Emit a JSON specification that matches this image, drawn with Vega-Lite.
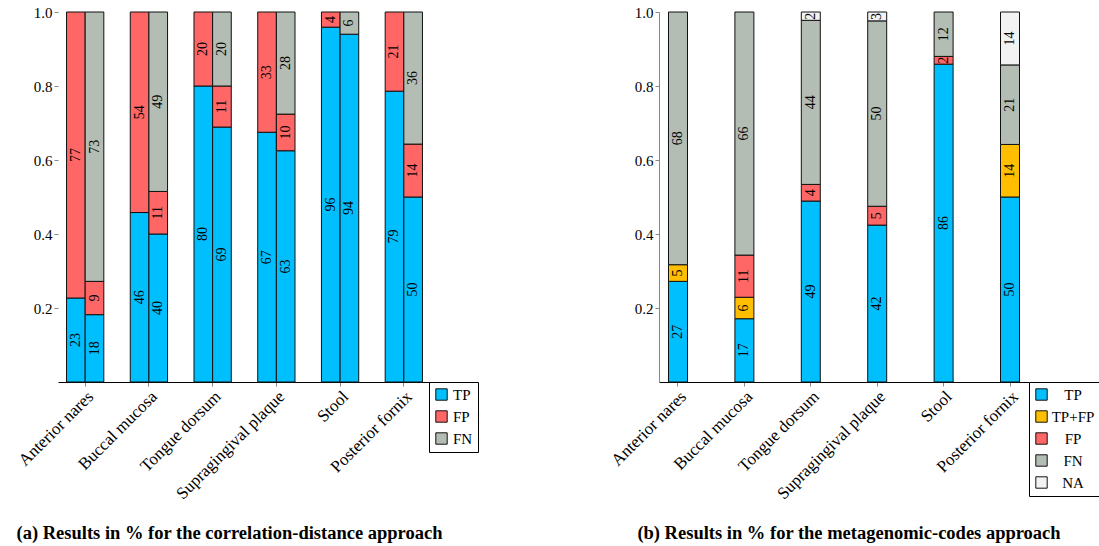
{
  "$schema": "https://vega.github.io/schema/vega-lite/v6.json",
  "padding": {"left": 14, "top": 5, "right": 0, "bottom": 5},
  "datasets": {
    "cd": [
      {"site": "Anterior nares", "bar": "1", "cls": "TP", "ord": 1, "v": 0.227, "lab": "23"},
      {"site": "Anterior nares", "bar": "1", "cls": "FP", "ord": 3, "v": 0.773, "lab": "77"},
      {"site": "Anterior nares", "bar": "2", "cls": "TP", "ord": 1, "v": 0.182, "lab": "18"},
      {"site": "Anterior nares", "bar": "2", "cls": "FP", "ord": 3, "v": 0.09, "lab": "9"},
      {"site": "Anterior nares", "bar": "2", "cls": "FN", "ord": 4, "v": 0.728, "lab": "73"},
      {"site": "Buccal mucosa", "bar": "1", "cls": "TP", "ord": 1, "v": 0.458, "lab": "46"},
      {"site": "Buccal mucosa", "bar": "1", "cls": "FP", "ord": 3, "v": 0.542, "lab": "54"},
      {"site": "Buccal mucosa", "bar": "2", "cls": "TP", "ord": 1, "v": 0.4, "lab": "40"},
      {"site": "Buccal mucosa", "bar": "2", "cls": "FP", "ord": 3, "v": 0.115, "lab": "11"},
      {"site": "Buccal mucosa", "bar": "2", "cls": "FN", "ord": 4, "v": 0.485, "lab": "49"},
      {"site": "Tongue dorsum", "bar": "1", "cls": "TP", "ord": 1, "v": 0.8, "lab": "80"},
      {"site": "Tongue dorsum", "bar": "1", "cls": "FP", "ord": 3, "v": 0.2, "lab": "20"},
      {"site": "Tongue dorsum", "bar": "2", "cls": "TP", "ord": 1, "v": 0.689, "lab": "69"},
      {"site": "Tongue dorsum", "bar": "2", "cls": "FP", "ord": 3, "v": 0.111, "lab": "11"},
      {"site": "Tongue dorsum", "bar": "2", "cls": "FN", "ord": 4, "v": 0.2, "lab": "20"},
      {"site": "Supragingival plaque", "bar": "1", "cls": "TP", "ord": 1, "v": 0.675, "lab": "67"},
      {"site": "Supragingival plaque", "bar": "1", "cls": "FP", "ord": 3, "v": 0.325, "lab": "33"},
      {"site": "Supragingival plaque", "bar": "2", "cls": "TP", "ord": 1, "v": 0.625, "lab": "63"},
      {"site": "Supragingival plaque", "bar": "2", "cls": "FP", "ord": 3, "v": 0.099, "lab": "10"},
      {"site": "Supragingival plaque", "bar": "2", "cls": "FN", "ord": 4, "v": 0.276, "lab": "28"},
      {"site": "Stool", "bar": "1", "cls": "TP", "ord": 1, "v": 0.959, "lab": "96"},
      {"site": "Stool", "bar": "1", "cls": "FP", "ord": 3, "v": 0.041, "lab": "4"},
      {"site": "Stool", "bar": "2", "cls": "TP", "ord": 1, "v": 0.94, "lab": "94"},
      {"site": "Stool", "bar": "2", "cls": "FN", "ord": 4, "v": 0.06, "lab": "6"},
      {"site": "Posterior fornix", "bar": "1", "cls": "TP", "ord": 1, "v": 0.786, "lab": "79"},
      {"site": "Posterior fornix", "bar": "1", "cls": "FP", "ord": 3, "v": 0.214, "lab": "21"},
      {"site": "Posterior fornix", "bar": "2", "cls": "TP", "ord": 1, "v": 0.5, "lab": "50"},
      {"site": "Posterior fornix", "bar": "2", "cls": "FP", "ord": 3, "v": 0.143, "lab": "14"},
      {"site": "Posterior fornix", "bar": "2", "cls": "FN", "ord": 4, "v": 0.357, "lab": "36"}
    ],
    "mc": [
      {"site": "Anterior nares", "cls": "TP", "ord": 1, "v": 0.272, "lab": "27"},
      {"site": "Anterior nares", "cls": "TP+FP", "ord": 2, "v": 0.045, "lab": "5"},
      {"site": "Anterior nares", "cls": "FN", "ord": 4, "v": 0.683, "lab": "68"},
      {"site": "Buccal mucosa", "cls": "TP", "ord": 1, "v": 0.171, "lab": "17"},
      {"site": "Buccal mucosa", "cls": "TP+FP", "ord": 2, "v": 0.058, "lab": "6"},
      {"site": "Buccal mucosa", "cls": "FP", "ord": 3, "v": 0.114, "lab": "11"},
      {"site": "Buccal mucosa", "cls": "FN", "ord": 4, "v": 0.657, "lab": "66"},
      {"site": "Tongue dorsum", "cls": "TP", "ord": 1, "v": 0.489, "lab": "49"},
      {"site": "Tongue dorsum", "cls": "FP", "ord": 3, "v": 0.045, "lab": "4"},
      {"site": "Tongue dorsum", "cls": "FN", "ord": 4, "v": 0.4435, "lab": "44"},
      {"site": "Tongue dorsum", "cls": "NA", "ord": 5, "v": 0.0225, "lab": "2"},
      {"site": "Supragingival plaque", "cls": "TP", "ord": 1, "v": 0.424, "lab": "42"},
      {"site": "Supragingival plaque", "cls": "FP", "ord": 3, "v": 0.051, "lab": "5"},
      {"site": "Supragingival plaque", "cls": "FN", "ord": 4, "v": 0.501, "lab": "50"},
      {"site": "Supragingival plaque", "cls": "NA", "ord": 5, "v": 0.024, "lab": "3"},
      {"site": "Stool", "cls": "TP", "ord": 1, "v": 0.859, "lab": "86"},
      {"site": "Stool", "cls": "FP", "ord": 3, "v": 0.021, "lab": "2"},
      {"site": "Stool", "cls": "FN", "ord": 4, "v": 0.12, "lab": "12"},
      {"site": "Posterior fornix", "cls": "TP", "ord": 1, "v": 0.5, "lab": "50"},
      {"site": "Posterior fornix", "cls": "TP+FP", "ord": 2, "v": 0.142, "lab": "14"},
      {"site": "Posterior fornix", "cls": "FN", "ord": 4, "v": 0.215, "lab": "21"},
      {"site": "Posterior fornix", "cls": "NA", "ord": 5, "v": 0.143, "lab": "14"}
    ]
  },
  "config": {
    "font": "Liberation Serif",
    "view": {"stroke": null},
    "axis": {
      "labelFont": "Liberation Serif",
      "labelFontSize": 15,
      "labelColor": "#000",
      "grid": false,
      "tickColor": "#888",
      "tickSize": 4,
      "domainColor": "#000"
    },
    "axisX": {"labelFontSize": 17},
    "legend": {
      "labelFont": "Liberation Serif",
      "labelFontSize": 15,
      "labelColor": "#000",
      "symbolType": "square",
      "symbolSize": 130,
      "symbolStrokeColor": "#111",
      "symbolStrokeWidth": 1,
      "strokeColor": "#000",
      "padding": 5,
      "rowPadding": 5
    },
    "title": {"font": "Liberation Serif", "fontSize": 18.5, "fontWeight": "bold", "color": "#000"}
  },
  "spacing": 128,
  "resolve": {"scale": {"color": "independent"}},
  "hconcat": [
    {
      "width": 373,
      "height": 370,
      "data": {"name": "cd"},
      "title": {"text": "(a) Results in % for the correlation-distance approach", "orient": "bottom", "offset": 22, "dx": -15},
      "transform": [
        {"stack": "v", "groupby": ["site", "bar"], "sort": [{"field": "ord", "order": "ascending"}], "as": ["y0", "y1"]}
      ],
      "encoding": {
        "x": {
          "field": "site", "type": "nominal",
          "sort": ["Anterior nares", "Buccal mucosa", "Tongue dorsum", "Supragingival plaque", "Stool", "Posterior fornix"],
          "scale": {"paddingInner": 0.415, "paddingOuter": 0.134},
          "axis": {"title": null, "labelAngle": -45}
        },
        "xOffset": {"field": "bar", "type": "nominal", "scale": {"paddingInner": 0, "paddingOuter": 0}}
      },
      "layer": [
        {
          "mark": {"type": "bar", "stroke": "#111", "strokeWidth": 1},
          "encoding": {
            "y": {
              "field": "y0", "type": "quantitative",
              "scale": {"domain": [0, 1]},
              "axis": {"title": null, "values": [0.2, 0.4, 0.6, 0.8, 1], "format": ".1f", "domain": false}
            },
            "y2": {"field": "y1"},
            "color": {
              "field": "cls", "type": "nominal",
              "scale": {"domain": ["TP", "FP", "FN"], "range": ["#00BFFF", "#FF6666", "#B4BDB4"]},
              "legend": {"title": null, "orient": "none", "legendX": 371, "legendY": 370}
            }
          }
        },
        {
          "transform": [{"fold": ["y0", "y1"], "as": ["k", "yy"]}],
          "mark": {"type": "text", "angle": 270, "fontSize": 14, "font": "Liberation Serif", "color": "#000", "align": "center", "baseline": "middle"},
          "encoding": {
            "y": {
              "aggregate": "mean", "field": "yy", "type": "quantitative",
              "axis": {"title": null, "values": [0.2, 0.4, 0.6, 0.8, 1], "format": ".1f", "domain": false}
            },
            "detail": {"field": "cls", "type": "nominal"},
            "text": {"field": "lab", "type": "nominal"}
          }
        }
      ]
    },
    {
      "width": 370,
      "height": 370,
      "data": {"name": "mc"},
      "title": {"text": "(b) Results in % for the metagenomic-codes approach", "orient": "bottom", "offset": 22, "dx": 5},
      "transform": [
        {"stack": "v", "groupby": ["site"], "sort": [{"field": "ord", "order": "ascending"}], "as": ["y0", "y1"]}
      ],
      "encoding": {
        "x": {
          "field": "site", "type": "nominal",
          "sort": ["Anterior nares", "Buccal mucosa", "Tongue dorsum", "Supragingival plaque", "Stool", "Posterior fornix"],
          "scale": {"paddingInner": 0.714, "paddingOuter": 0.143},
          "axis": {"title": null, "labelAngle": -45}
        }
      },
      "layer": [
        {
          "mark": {"type": "bar", "stroke": "#111", "strokeWidth": 1},
          "encoding": {
            "y": {
              "field": "y0", "type": "quantitative",
              "scale": {"domain": [0, 1]},
              "axis": {"title": null, "values": [0.2, 0.4, 0.6, 0.8, 1], "format": ".1f", "domain": true, "domainColor": "#888"}
            },
            "y2": {"field": "y1"},
            "color": {
              "field": "cls", "type": "nominal",
              "scale": {"domain": ["TP", "TP+FP", "FP", "FN", "NA"], "range": ["#00BFFF", "#FFBF00", "#FF6666", "#B4BDB4", "#F2F2F2"]},
              "legend": {"title": null, "orient": "none", "legendX": 370, "legendY": 370, "labelAlign": "center", "labelOffset": 24}
            }
          }
        },
        {
          "transform": [{"fold": ["y0", "y1"], "as": ["k", "yy"]}],
          "mark": {"type": "text", "angle": 270, "fontSize": 14, "font": "Liberation Serif", "color": "#000", "align": "center", "baseline": "middle"},
          "encoding": {
            "y": {
              "aggregate": "mean", "field": "yy", "type": "quantitative",
              "axis": {"title": null, "values": [0.2, 0.4, 0.6, 0.8, 1], "format": ".1f", "domain": true, "domainColor": "#888"}
            },
            "detail": {"field": "cls", "type": "nominal"},
            "text": {"field": "lab", "type": "nominal"}
          }
        }
      ]
    }
  ]
}
